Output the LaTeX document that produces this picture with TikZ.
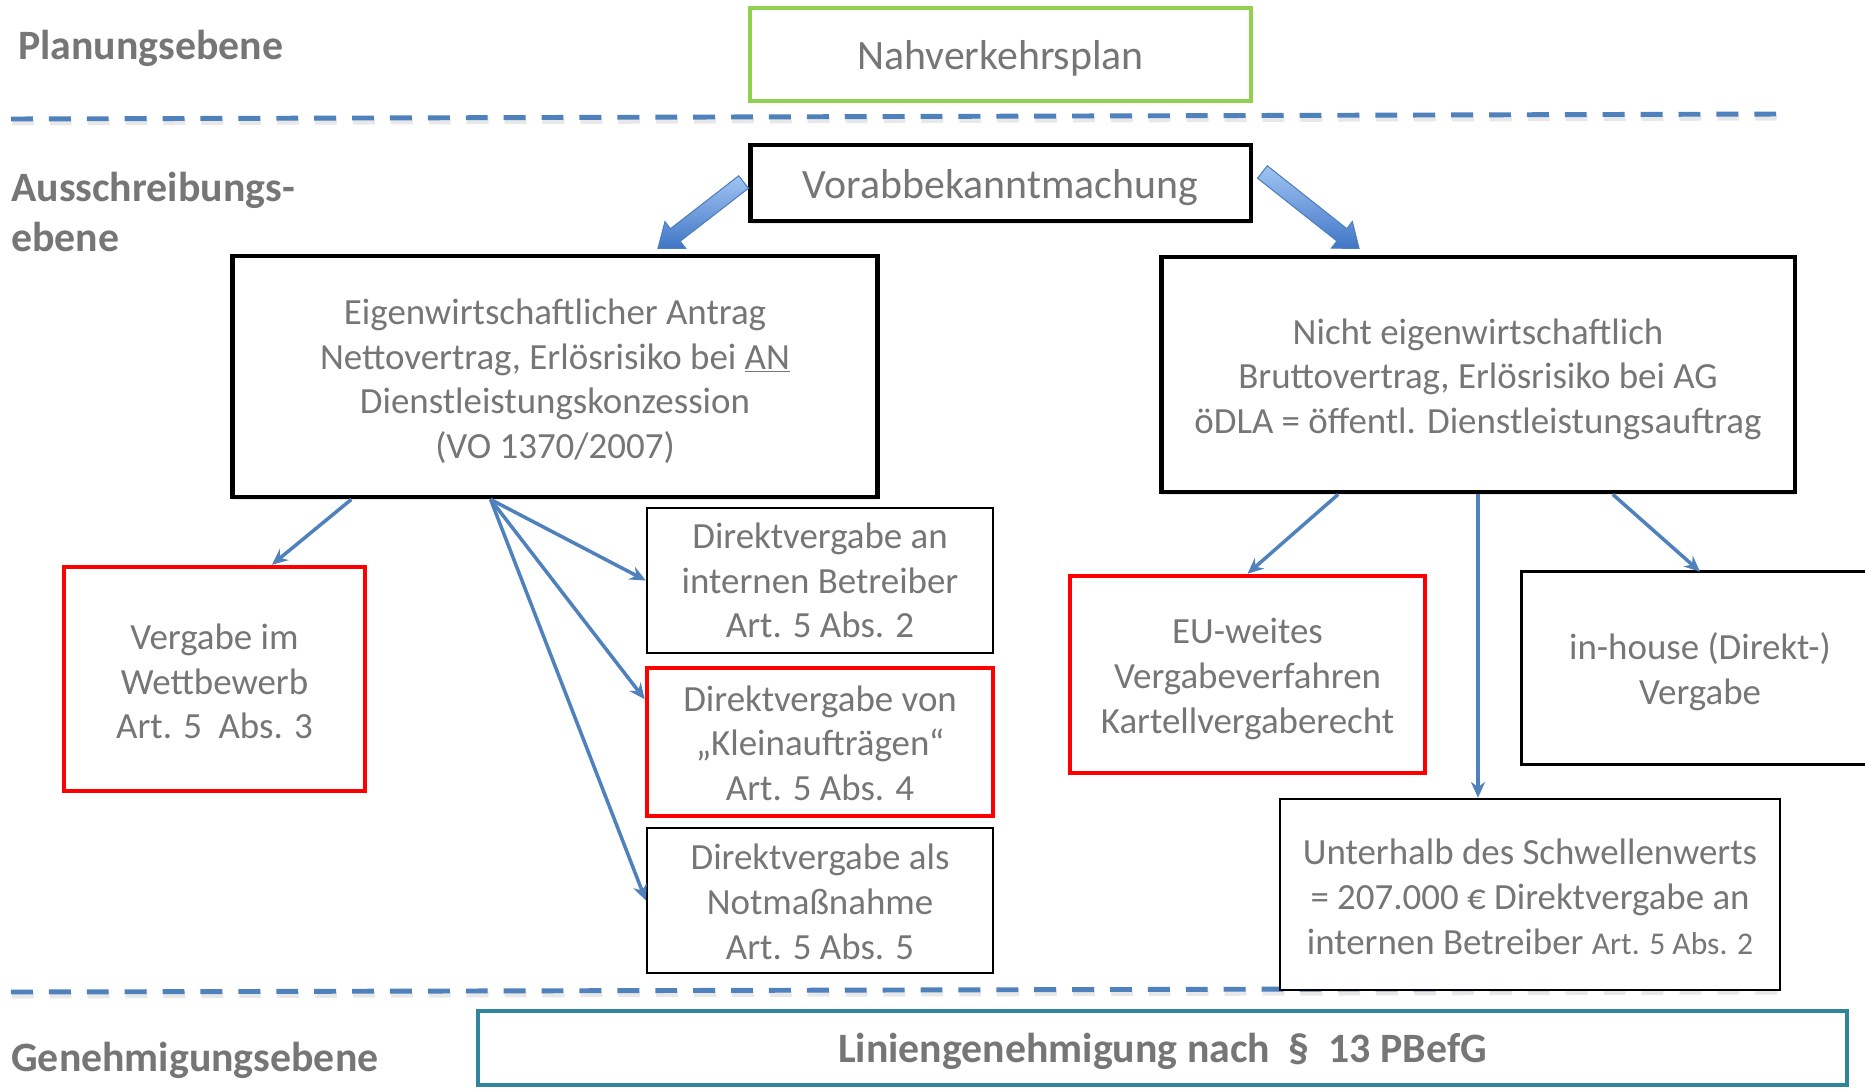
\documentclass[tikz,border=0pt]{standalone}
\usepackage{fontspec}
\setmainfont{Carlito}
\usetikzlibrary{calc,arrows.meta,shadows}
\definecolor{txt}{RGB}{118,118,118}
\definecolor{dblue}{RGB}{79,129,189}
\definecolor{agreen}{RGB}{146,208,80}
\definecolor{ared}{RGB}{255,0,0}
\definecolor{ateal}{RGB}{49,133,155}
\definecolor{lblue}{RGB}{160,196,242}
\definecolor{mblue}{RGB}{65,118,198}
\tikzset{
 every node/.style={text=txt},
 bigfont/.style={font=\fontsize{23.8}{28.3}\selectfont},
 boxfont/.style={font=\fontsize{21}{25.5}\selectfont},
 box/.style={draw, fill=white, inner sep=0pt},
 thickbox/.style={box, draw=black, line width=2.8pt, drop shadow={shadow xshift=0.5pt, shadow yshift=-1.8pt, opacity=0.18}},
 thinbox/.style={box, draw=black, line width=1.4pt},
 redbox/.style={box, draw=ared, line width=2.6pt},
 lbl/.style={align=center, inner sep=0pt, text=txt},
 T/.style 2 args={label={[lbl, boxfont, yshift=-#1]center:{#2}}},
 TB/.style 2 args={label={[lbl, bigfont, yshift=-#1]center:{#2}}},
 TBB/.style 2 args={label={[lbl, font=\bfseries\fontsize{23.8}{28.3}\selectfont, yshift=-#1]center:{#2}}},
 level/.style={anchor=west, inner sep=0pt, align=left, font=\bfseries\fontsize{23.8}{28.3}\selectfont},
 sep/.style={draw=dblue, line width=2.8pt, dash pattern=on 12.47pt off 9.1pt},
 sepsh/.style={draw=black!9, line width=3.4pt, dash pattern=on 12.47pt off 9.1pt, transform canvas={xshift=0.5pt,yshift=-2pt}},
 conn/.style={draw=dblue, line width=2pt, -{Stealth[length=9pt,width=8pt]}},
 blockarr/.style={draw=dblue, line width=0.6pt, top color=lblue, bottom color=mblue},
}
\newcommand\myblockarrow[2]{%
  \path let \p1=($(#2)-(#1)$) in \pgfextra{%
    \pgfmathparse{atan2(\y1,\x1)}\xdef\BAang{\pgfmathresult}%
    \pgfmathparse{veclen(\x1,\y1)}\xdef\BAlen{\pgfmathresult}};
  \filldraw[blockarr, shift={(#1)}, rotate=\BAang]
    (0pt,-4.5pt) -- ({\BAlen pt-12.5pt},-4.5pt) -- ({\BAlen pt-12.5pt},-9.6pt)
    -- (\BAlen pt,0pt) -- ({\BAlen pt-12.5pt},9.6pt) -- ({\BAlen pt-12.5pt},4.5pt)
    -- (0pt,4.5pt) -- cycle;
}
\begin{document}
\begin{tikzpicture}[x=0.02cm,y=-0.02cm]
\fill[white] (0,0) rectangle (1865,1088);
\useasboundingbox (0,0) rectangle (1865,1088);

% separators
\coordinate (s1a) at (11,119); \coordinate (s1b) at (1784,114);
\draw[sepsh] (s1a) -- (s1b);
\draw[sep] (s1a) -- (s1b);
\coordinate (s2a) at (11,992); \coordinate (s2b) at (1784,988);
\draw[sepsh] (s2a) -- (s2b);
\draw[sep] (s2a) -- (s2b);

% level labels
\node[level] (lp) at (18,48.6) {Planungsebene};
\node[level] (la) at (11,212) {Ausschreibungs-\\ebene};
\node[level] (lg) at (11,1060.6) {Genehmigungsebene};

% boxes
\node[box, draw=agreen, line width=2.6pt, minimum width=10.02cm, minimum height=1.86cm,
  TB={2.0pt}{Nahverkehrsplan}] (nvp) at (1000.5,54.5) {};
\node[thickbox, minimum width=10.02cm, minimum height=1.52cm,
  TB={2.7pt}{Vorabbekanntmachung}] (vor) at (1000.5,183) {};
\node[thickbox, minimum width=12.92cm, minimum height=4.82cm,
  T={2.7pt}{Eigenwirtschaftlicher Antrag\\Nettovertrag, Erlösrisiko bei \underline{AN}\\Dienstleistungskonzession\\(VO 1370/2007)}] (eig) at (555,376.5) {};
\node[thickbox, minimum width=12.68cm, minimum height=4.70cm,
  T={2.7pt}{Nicht eigenwirtschaftlich\\Bruttovertrag, Erlösrisiko bei AG\\öDLA = öffentl. Dienstleistungsauftrag}] (nicht) at (1478,374.5) {};
\node[redbox, minimum width=6.02cm, minimum height=4.48cm,
  T={1.35pt}{Vergabe im\\Wettbewerb\\Art. 5\ \ Abs. 3}] (wett) at (214.5,679) {};
\node[thinbox, minimum width=6.92cm, minimum height=2.90cm,
  T={0pt}{Direktvergabe an\\internen Betreiber\\Art. 5 Abs. 2}] (dint) at (820,580.5) {};
\node[redbox, minimum width=6.92cm, minimum height=2.96cm,
  T={0.7pt}{Direktvergabe von\\„Kleinaufträgen“\\Art. 5 Abs. 4}] (klein) at (820,742) {};
\node[thinbox, minimum width=6.92cm, minimum height=2.90cm,
  T={0.7pt}{Direktvergabe als\\Notmaßnahme\\Art. 5 Abs. 5}] (notm) at (820,900.5) {};
\node[redbox, minimum width=7.10cm, minimum height=3.94cm,
  T={2.7pt}{EU-weites\\Vergabeverfahren\\Kartellvergaberecht}] (eu) at (1247.5,674.5) {};
\node[inner sep=0pt, minimum width=7.12cm, minimum height=3.84cm,
  T={2.0pt}{in-house (Direkt-)\\Vergabe}] (inh) at (1700,668) {};
\coordinate (redge) at (1865,0);
\draw[black, line width=1.4pt] (redge |- inh.north) -- (inh.north west) -- (inh.south west) -- (redge |- inh.south);
\node[thinbox, minimum width=10.00cm, minimum height=3.82cm,
  T={1.35pt}{Unterhalb des Schwellenwerts\\= 207.000 € Direktvergabe an\\internen Betreiber {\fontsize{18}{25.5}\selectfont Art. 5 Abs. 2}}] (unter) at (1530,894.5) {};
\node[box, draw=ateal, line width=2.6pt, minimum width=27.38cm, minimum height=1.48cm,
  TBB={2.0pt}{Liniengenehmigung nach\ \ §\ \ 13 PBefG}] (lin) at (1162.5,1048) {};

% block arrows
\coordinate (bl1) at ($(vor.west)+(-4,-1)$);
\coordinate (bl2) at ($(eig.north west)!0.658!(eig.north east)+(0,-5)$);
\coordinate (br1) at ($(vor.east)+(9,-11)$);
\coordinate (br2) at ($(nicht.north west)!0.314!(nicht.north east)+(0,-6)$);
\myblockarrow{bl1}{bl2}
\myblockarrow{br1}{br2}

% connectors
\draw[conn] ($(eig.south west)!0.187!(eig.south east)$) -- ($(wett.north west)!0.688!(wett.north east)$);
\draw[conn] ($(eig.south west)!0.401!(eig.south east)$) -- (dint.west);
\draw[conn] ($(eig.south west)!0.401!(eig.south east)$) -- ($(klein.north west)!0.22!(klein.south west)$);
\draw[conn] ($(eig.south west)!0.401!(eig.south east)$) -- (notm.west);
\draw[conn] ($(nicht.south west)!0.281!(nicht.south east)$) -- (eu.north);
\draw[conn] (nicht.south) -- (nicht.south |- unter.north);
\draw[conn] ($(nicht.south west)!0.711!(nicht.south east)$) -- (inh.north);
\end{tikzpicture}
\end{document}
